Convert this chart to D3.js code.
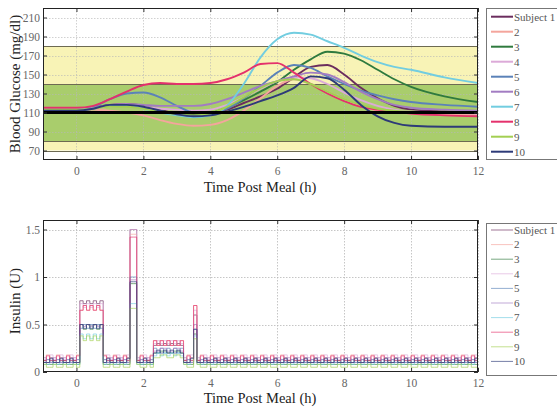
<!DOCTYPE html>
<html>
<head>
<meta charset="utf-8">
<script src="https://cdn.jsdelivr.net/npm/d3@7"></script>
<style>
  html, body { margin: 0; padding: 0; background: #fff; }
  svg { display: block; }
</style>
</head>
<body>
<svg id="chart" width="557" height="407"></svg>
<script>
// ---- Data -------------------------------------------------------------
const subjects = ["Subject 1", "2", "3", "4", "5", "6", "7", "8", "9", "10"];
const subjectColors = ["#6b2d5e", "#f4a59c", "#2f7a3e", "#dcaad8", "#5b82b8",
                       "#a27cc2", "#72cde0", "#e4316c", "#a3cf52", "#2d3a78"];

// Blood glucose (mg/dl) sampled at these hours after the meal
const glucoseTimes = [-1, 0, 0.5, 1, 1.5, 2, 2.5, 3, 3.5, 4, 4.5, 5, 5.5, 6, 6.5, 7, 7.5, 8, 8.5, 9, 9.5, 10, 11, 12];
const glucose1  = [112,112,114,118,119,117,113,109,108,109,113,120,127,135,147,158,160,150,136,125,117,113,111,110];
const glucose2  = [114,114,113,112,110,107,102, 98, 96, 97,102,112,125,138,145,140,132,124,117,112,110,109,108,108];
const glucose3  = [113,113,115,118,118,116,112,108,107,109,115,123,132,142,155,166,174,172,165,155,145,137,127,121];
const glucose4  = [113,113,114,116,117,116,114,113,112,113,118,126,135,143,147,146,140,131,123,117,113,111,110,109];
const glucose5  = [113,113,116,124,130,131,126,117,110,109,114,125,138,152,160,157,148,140,133,128,124,121,118,116];
const glucose6  = [113,113,115,118,119,118,117,117,117,119,124,131,138,143,148,152,150,142,132,124,118,115,113,112];
const glucose7  = [113,113,114,117,117,114,110,107,105,107,117,140,168,187,194,192,185,178,170,163,158,155,147,141];
const glucose8  = [115,115,117,124,132,139,141,140,140,141,145,152,161,162,152,140,130,122,116,113,111,109,107,106];
const glucose9  = [113,113,114,116,116,114,111,108,107,109,116,126,136,143,145,140,132,124,118,114,112,111,110,110];
const glucose10 = [112,112,114,118,118,116,112,108,106,107,111,116,122,128,136,148,146,134,118,106, 99, 96, 95, 95];
const glucoseSeries = [glucose1, glucose2, glucose3, glucose4, glucose5, glucose6, glucose7, glucose8, glucose9, glucose10];

// Glucose zones (mg/dl) and target
const outerZone = [70, 180];
const innerZone = [80, 140];
const glucoseTarget = 110;

// Insulin delivery: one code per 0.1 h slot from -1 h to 12 h (130 slots).
// Codes index each subject's level list:
// 0 basal low, 1 basal high, 2/3 first bolus, 4 second bolus, 5/6 third bolus, 7 correction
const insulinStart = -1;
const insulinStep = 0.1;
const deliverySchedules = [
  "00100100100" + "3232323" + "01001001" + "44" + "00100" + "565656565" + "001" + "7" +
  "001001001001" + "001001001001" + "001001001001" + "001001001001" + "001001001001" + "001001001001" + "001001001001",
  "01001001001" + "2323232" + "10010010" + "44" + "01001" + "656565656" + "010" + "7" +
  "010010010010" + "010010010010" + "010010010010" + "010010010010" + "010010010010" + "010010010010" + "010010010010",
  "10010010010" + "3232323" + "00100100" + "44" + "10010" + "556655665" + "100" + "7" +
  "100100100100" + "100100100100" + "100100100100" + "100100100100" + "100100100100" + "100100100100" + "100100100100"
];
const subjectSchedule = [0, 1, 2, 0, 1, 2, 0, 1, 2, 0];
const insulin1  = [0.10, 0.15, 0.72, 0.75, 1.50, 0.28, 0.30, 0.60];
const insulin2  = [0.12, 0.18, 0.65, 0.70, 1.45, 0.28, 0.33, 0.70];
const insulin3  = [0.08, 0.12, 0.45, 0.50, 0.93, 0.20, 0.22, 0.40];
const insulin4  = [0.13, 0.18, 0.68, 0.72, 1.50, 0.30, 0.33, 0.65];
const insulin5  = [0.10, 0.13, 0.46, 0.50, 1.00, 0.20, 0.25, 0.45];
const insulin6  = [0.10, 0.15, 0.48, 0.50, 0.97, 0.22, 0.25, 0.50];
const insulin7  = [0.08, 0.12, 0.35, 0.40, 0.72, 0.17, 0.20, 0.38];
const insulin8  = [0.12, 0.17, 0.65, 0.70, 1.42, 0.28, 0.33, 0.70];
const insulin9  = [0.05, 0.08, 0.33, 0.38, 0.67, 0.15, 0.18, 0.35];
const insulin10 = [0.10, 0.14, 0.46, 0.50, 0.95, 0.20, 0.23, 0.45];
const insulinLevels = [insulin1, insulin2, insulin3, insulin4, insulin5, insulin6, insulin7, insulin8, insulin9, insulin10];

// Axis ticks
const timeTicks = [0, 2, 4, 6, 8, 10, 12];
const glucoseTicks = [70, 90, 110, 130, 150, 170, 190, 210];
const insulinTicks = [0, 0.5, 1, 1.5];

// ---- Layout -----------------------------------------------------------
const svg = d3.select("#chart");
const serif = "'Liberation Serif', 'DejaVu Serif', serif";
const left = 43, right = 478;
const top1 = 8, bottom1 = 160;
const top2 = 220, bottom2 = 372;

const x = d3.scaleLinear().domain([-1, 12]).range([left, right]);
const yG = d3.scaleLinear().domain([60, 220]).range([bottom1, top1]);
const yI = d3.scaleLinear().domain([0, 1.6]).range([bottom2, top2]);

const defs = svg.append("defs");
defs.append("clipPath").attr("id", "clipTop")
  .append("rect").attr("x", left).attr("y", top1).attr("width", right - left).attr("height", bottom1 - top1);
defs.append("clipPath").attr("id", "clipBot")
  .append("rect").attr("x", left).attr("y", top2).attr("width", right - left).attr("height", bottom2 - top2);

function grid(g, yScale, yTicks, y0, y1) {
  g.selectAll("line.gx").data(timeTicks).join("line")
    .attr("x1", d => Math.round(x(d)) + 0.5).attr("x2", d => Math.round(x(d)) + 0.5)
    .attr("y1", y0).attr("y2", y1)
    .attr("stroke", "#b8b8b8").attr("stroke-width", 0.8).attr("stroke-dasharray", "1.5,1.5");
  g.selectAll("line.gy").data(yTicks).join("line")
    .attr("x1", left).attr("x2", right)
    .attr("y1", d => Math.round(yScale(d)) + 0.5).attr("y2", d => Math.round(yScale(d)) + 0.5)
    .attr("stroke", "#b8b8b8").attr("stroke-width", 0.8).attr("stroke-dasharray", "1.5,1.5");
}

function frame(g, yScale, yTicks, yFormat, y0, y1) {
  // inward ticks on all four sides, labels on bottom and left
  const xb = g.append("g").attr("transform", `translate(0,${y1})`)
    .call(d3.axisBottom(x).tickValues(timeTicks).tickSize(-4).tickPadding(7).tickFormat(d3.format("d")));
  const xt = g.append("g").attr("transform", `translate(0,${y0})`)
    .call(d3.axisTop(x).tickValues(timeTicks).tickSize(-4).tickFormat(""));
  const yl = g.append("g").attr("transform", `translate(${left},0)`)
    .call(d3.axisLeft(yScale).tickValues(yTicks).tickSize(-4).tickPadding(3).tickFormat(yFormat));
  const yr = g.append("g").attr("transform", `translate(${right},0)`)
    .call(d3.axisRight(yScale).tickValues(yTicks).tickSize(-4).tickFormat(""));
  [xb, xt, yl, yr].forEach(a => {
    a.select(".domain").remove();
    a.selectAll(".tick line").attr("stroke", "#333");
    a.selectAll("text").attr("font-family", serif).attr("font-size", 11.5).attr("fill", "#666");
  });
  g.append("rect").attr("x", left + 0.5).attr("y", y0 + 0.5)
    .attr("width", right - left - 1).attr("height", y1 - y0 - 1)
    .attr("fill", "none").attr("stroke", "#222").attr("stroke-width", 1);
}

function legend(g, y0, yStep, boxTop, boxH, width, opacity) {
  g.append("rect").attr("x", 486.5).attr("y", boxTop + 0.5).attr("width", 90).attr("height", boxH)
    .attr("fill", "#fff").attr("stroke", "#777").attr("stroke-width", 1);
  const rows = g.selectAll("g.row").data(subjects).join("g")
    .attr("transform", (d, i) => `translate(0,${y0 + i * yStep})`);
  rows.append("line").attr("x1", 491).attr("x2", 513)
    .attr("stroke", (d, i) => subjectColors[i]).attr("stroke-width", width).attr("stroke-opacity", opacity);
  rows.append("text").attr("x", 514).attr("y", 0).attr("dy", "0.35em")
    .attr("font-family", serif).attr("font-size", 11).attr("fill", "#555").text(d => d);
}

// ---- Blood glucose panel ------------------------------------------------
const gTop = svg.append("g");
gTop.append("rect").attr("x", left).attr("y", top1).attr("width", right - left).attr("height", bottom1 - top1).attr("fill", "#fff");
gTop.append("rect").attr("x", left).attr("width", right - left)
  .attr("y", yG(outerZone[1])).attr("height", yG(outerZone[0]) - yG(outerZone[1]))
  .attr("fill", "#f8f3b6");
gTop.append("rect").attr("x", left).attr("width", right - left)
  .attr("y", yG(innerZone[1])).attr("height", yG(innerZone[0]) - yG(innerZone[1]))
  .attr("fill", "#a9cd6c");
grid(gTop.append("g").attr("opacity", 0.8), yG, glucoseTicks, top1, bottom1);
gTop.selectAll("line.zone").data([...outerZone, ...innerZone]).join("line")
  .attr("x1", left).attr("x2", right)
  .attr("y1", d => Math.round(yG(d)) + 0.5).attr("y2", d => Math.round(yG(d)) + 0.5)
  .attr("stroke", "#6d6a52").attr("stroke-width", 1.1);

const glucoseLine = d3.line()
  .x((d, i) => x(glucoseTimes[i]))
  .y(d => yG(d))
  .curve(d3.curveMonotoneX);
const curves = gTop.append("g").attr("clip-path", "url(#clipTop)");
curves.selectAll("path").data(glucoseSeries).join("path")
  .attr("d", glucoseLine)
  .attr("fill", "none")
  .attr("stroke", (d, i) => subjectColors[i])
  .attr("stroke-width", 1.9)
  .attr("stroke-linejoin", "round");
curves.append("line").attr("x1", left).attr("x2", right)
  .attr("y1", yG(glucoseTarget)).attr("y2", yG(glucoseTarget))
  .attr("stroke", "#000").attr("stroke-width", 3.2);

frame(gTop, yG, glucoseTicks, d3.format("d"), top1, bottom1);
legend(svg.append("g"), 16.7, 15, 8, 151, 2, 1);

gTop.append("text").attr("transform", "translate(20,84) rotate(-90)")
  .attr("text-anchor", "middle").attr("font-family", serif).attr("font-size", 15).attr("fill", "#222")
  .text("Blood Glucose (mg/dl)");
gTop.append("text").attr("x", 260).attr("y", 192)
  .attr("text-anchor", "middle").attr("font-family", serif).attr("font-size", 14.5).attr("fill", "#222")
  .text("Time Post Meal (h)");

// ---- Insulin panel -----------------------------------------------------
const gBot = svg.append("g");
grid(gBot.append("g"), yI, insulinTicks.slice(1), top2, bottom2);

const insulinSteps = subjects.map((s, k) => {
  const codes = deliverySchedules[subjectSchedule[k]];
  const lv = insulinLevels[k];
  const pts = Array.from(codes, (c, i) => [insulinStart + i * insulinStep, lv[+c]]);
  pts.push([12, pts[pts.length - 1][1]]);
  return pts;
});
const stepLine = d3.line().x(d => x(d[0])).y(d => yI(d[1])).curve(d3.curveStepAfter);
gBot.append("g").attr("clip-path", "url(#clipBot)")
  .selectAll("path").data(insulinSteps).join("path")
  .attr("d", stepLine)
  .attr("fill", "none")
  .attr("stroke", (d, i) => subjectColors[i])
  .attr("stroke-opacity", 0.65)
  .attr("stroke-width", 1);

frame(gBot, yI, insulinTicks, d => d === 0 ? "0" : d3.format("~g")(d), top2, bottom2);
legend(svg.append("g"), 230, 14.6, 223, 152, 1, 0.65);

gBot.append("text").attr("transform", "translate(20,301) rotate(-90)")
  .attr("text-anchor", "middle").attr("font-family", serif).attr("font-size", 15).attr("fill", "#222")
  .text("Insulin (U)");
gBot.append("text").attr("x", 260).attr("y", 403)
  .attr("text-anchor", "middle").attr("font-family", serif).attr("font-size", 14.5).attr("fill", "#222")
  .text("Time Post Meal (h)");
</script>
</body>
</html>
